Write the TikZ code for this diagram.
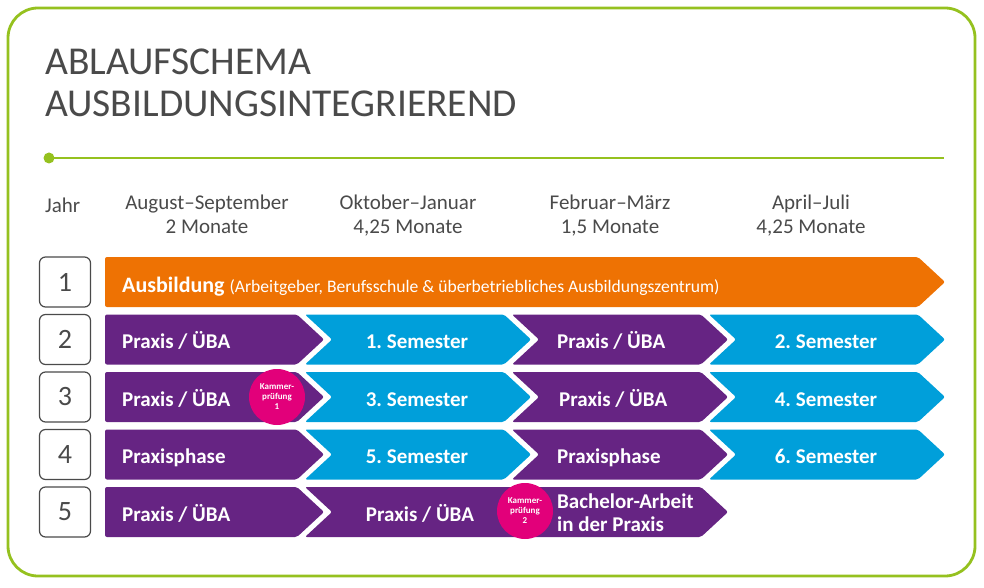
\documentclass[tikz,border=0pt]{standalone}
\usepackage{fontspec}
\setmainfont{Carlito}
\definecolor{cOrange}{RGB}{238,114,3}
\definecolor{cPurple}{RGB}{102,36,131}
\definecolor{cBlue}{RGB}{0,159,218}
\definecolor{cMagenta}{RGB}{226,0,122}
\definecolor{cGreen}{RGB}{149,193,31}
\definecolor{cGray}{RGB}{74,74,74}
\newcommand\chevplain[4]{%
  \fill[#1, rounded corners=2pt] (#2,#4) -- (#3,#4) -- ({#3+27},{#4+25}) -- (#3,{#4+50}) -- (#2,{#4+50}) -- cycle;}
\newcommand\chevnotch[4]{%
  \fill[#1, rounded corners=2pt] (#2,#4) -- (#3,#4) -- ({#3+27},{#4+25}) -- (#3,{#4+50}) -- (#2,{#4+50}) -- ({#2+27},{#4+25}) -- cycle;}
\tikzset{
  titletext/.style={text=cGray, font=\fontsize{39.5}{42}\selectfont, inner sep=0, anchor=base west},
  headtext/.style={text=cGray, font=\fontsize{21}{24}\selectfont, inner sep=0, anchor=base},
  yearbox/.style={draw=cGray, line width=1.2pt, rounded corners=6pt, minimum width=51pt, minimum height=50pt, inner sep=0, text=cGray, font=\fontsize{28}{30}\selectfont},
  lbl/.style={text=white, font=\bfseries\fontsize{21}{23}\selectfont, inner sep=0},
  exam/.style={circle, fill=cMagenta, minimum size=56pt, inner sep=0, text=white, align=center, font=\bfseries\fontsize{9}{10}\selectfont},
}
\begin{document}
\frenchspacing
\begin{tikzpicture}[x=1pt,y=-1pt]
\useasboundingbox (0,0) rectangle (984,588);
% frame
\draw[cGreen, line width=2.8pt, rounded corners=30pt] (8,8) rectangle (975,576);
% title
\node[titletext] (title1) at (45,75) {ABLAUFSCHEMA};
\node[titletext] (title2) at (45,117) {AUSBILDUNGSINTEGRIEREND};
% rule
\coordinate (ruleA) at (49,158);
\coordinate (ruleB) at (944,158);
\draw[cGreen, line width=2.5pt] (ruleA) -- (ruleB);
\fill[cGreen] (ruleA) circle (5.5pt);
% header
\node[headtext, anchor=base west] (jahr) at (45,212) {Jahr};
\node[headtext] (h1a) at (207,209) {August–September};
\node[headtext] (h1b) at (207,233) {2 Monate};
\node[headtext] (h2a) at (408,209) {Oktober–Januar};
\node[headtext] (h2b) at (408,233) {4,25 Monate};
\node[headtext] (h3a) at (610,209) {Februar–März};
\node[headtext] (h3b) at (610,233) {1,5 Monate};
\node[headtext] (h4a) at (811,209) {April–Juli};
\node[headtext] (h4b) at (811,233) {4,25 Monate};
% year boxes
\node[yearbox] (y1) at (65,282) {1};
\node[yearbox] (y2) at (65,339.5) {2};
\node[yearbox] (y3) at (65,397) {3};
\node[yearbox] (y4) at (65,454.5) {4};
\node[yearbox] (y5) at (65,512) {5};
% row 1
\chevplain{cOrange}{105}{918}{257}
\node[lbl, anchor=base west] (r1) at (122,292) {\fontsize{22}{24}\selectfont Ausbildung\ \mdseries\fontsize{17.6}{20}\selectfont(Arbeitgeber, Berufsschule \& überbetriebliches Ausbildungszentrum)};
% row 2
\chevplain{cPurple}{105}{297}{314.5}
\chevnotch{cBlue}{305}{504}{314.5}
\chevnotch{cPurple}{512}{701}{314.5}
\chevnotch{cBlue}{709}{918}{314.5}
\node[lbl, anchor=base west] (r21) at (122,348.5) {Praxis / ÜBA};
\node[lbl, anchor=base] (r22) at (417,348.5) {1. Semester};
\node[lbl, anchor=base west] (r23) at (557,348.5) {Praxis / ÜBA};
\node[lbl, anchor=base] (r24) at (826,348.5) {2. Semester};
% row 3
\chevplain{cPurple}{105}{297}{372}
\chevnotch{cBlue}{305}{504}{372}
\chevnotch{cPurple}{512}{701}{372}
\chevnotch{cBlue}{709}{918}{372}
\node[lbl, anchor=base west] (r31) at (122,406) {Praxis / ÜBA};
\node[lbl, anchor=base] (r32) at (417,406) {3. Semester};
\node[lbl, anchor=base west] (r33) at (559,406) {Praxis / ÜBA};
\node[lbl, anchor=base] (r34) at (826,406) {4. Semester};
\node[exam] (k1) at (277,397) {Kammer-\\prüfung\\1};
% row 4
\chevplain{cPurple}{105}{297}{429.5}
\chevnotch{cBlue}{305}{504}{429.5}
\chevnotch{cPurple}{512}{701}{429.5}
\chevnotch{cBlue}{709}{918}{429.5}
\node[lbl, anchor=base west] (r41) at (122,463.5) {Praxisphase};
\node[lbl, anchor=base] (r42) at (417,463.5) {5. Semester};
\node[lbl, anchor=base west] (r43) at (557,463.5) {Praxisphase};
\node[lbl, anchor=base] (r44) at (826,463.5) {6. Semester};
% row 5
\chevplain{cPurple}{105}{297}{487}
\chevnotch{cPurple}{305}{701}{487}
\node[lbl, anchor=base west] (r51) at (122,521) {Praxis / ÜBA};
\node[lbl, anchor=base] (r52) at (420,521) {Praxis / ÜBA};
\node[lbl, anchor=base west] (r53a) at (557,508) {Bachelor-Arbeit};
\node[lbl, anchor=base west] (r53b) at (557,531) {in der Praxis};
\node[exam] (k2) at (525,511) {Kammer-\\prüfung\\2};
\end{tikzpicture}
\end{document}
